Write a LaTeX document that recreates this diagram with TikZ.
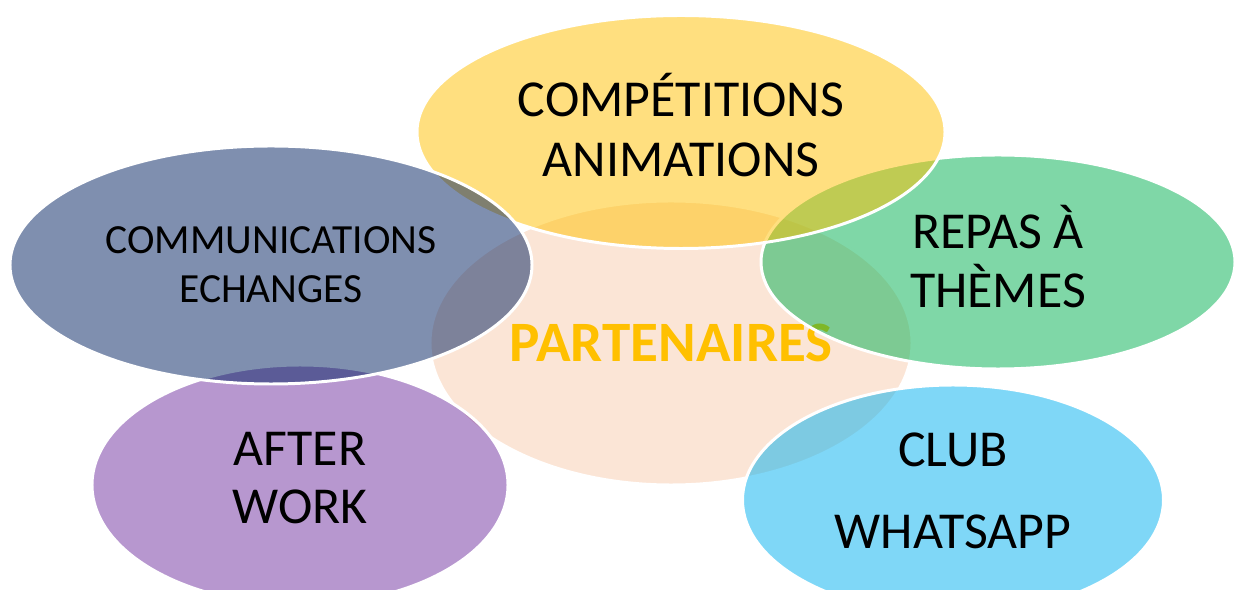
\documentclass[tikz,border=0pt]{standalone}
\usepackage{fontspec}
\setmainfont{Carlito}
\usetikzlibrary{shapes.geometric}
\definecolor{peche}{HTML}{F8CBAD}
\definecolor{jaune}{HTML}{FFC000}
\definecolor{vert}{HTML}{00B050}
\definecolor{ardoise}{HTML}{002060}
\definecolor{violet}{HTML}{7030A0}
\definecolor{bleuclair}{HTML}{00B0F0}
% profondeur invisible sous la derniere ligne
\newcommand{\prof}[1]{\rule[-#1]{0pt}{#1}}
\begin{document}
\begin{tikzpicture}[x=0.2mm,y=-0.2mm]
\tikzstyle{bulle}=[ellipse,draw=white,line width=1.7pt,fill opacity=0.5,text opacity=1,inner sep=0pt,align=center];
\useasboundingbox (0,0) rectangle (1235,590);
\clip (0,0) rectangle (1235,590);

\draw (671,343) node[bulle,fill=peche,text=jaune,minimum width=9.64cm,minimum height=5.68cm,font=\bfseries\fontsize{32.5}{39}\selectfont] (centre) {PARTENAIRES};
\draw (953,500) node[bulle,fill=bleuclair,minimum width=8.42cm,minimum height=4.6cm,font=\fontsize{29.5}{46.7}\selectfont] (whatsapp) {CLUB\\WHATSAPP\prof{11pt}};
\draw (300,485) node[bulle,fill=violet,minimum width=8.32cm,minimum height=4.8cm,font=\fontsize{29.5}{33}\selectfont] (afterwork) {AFTER\\WORK\prof{8.5pt}};
\draw (998,262) node[bulle,fill=vert,minimum width=9.48cm,minimum height=4.28cm,font=\fontsize{29.5}{33.6}\selectfont] (repas) {REPAS À\\THÈMES\prof{6pt}};
\draw (681,132) node[bulle,fill=jaune,minimum width=10.56cm,minimum height=4.66cm,font=\fontsize{29.5}{34.1}\selectfont] (competitions) {COMPÉTITIONS\\ANIMATIONS\prof{8pt}};
\draw (271,265) node[bulle,fill=ardoise,minimum width=10.44cm,minimum height=4.76cm,font=\fontsize{23.6}{27.9}\selectfont] (communications) {COMMUNICATIONS\\ECHANGES};
\end{tikzpicture}
\end{document}
